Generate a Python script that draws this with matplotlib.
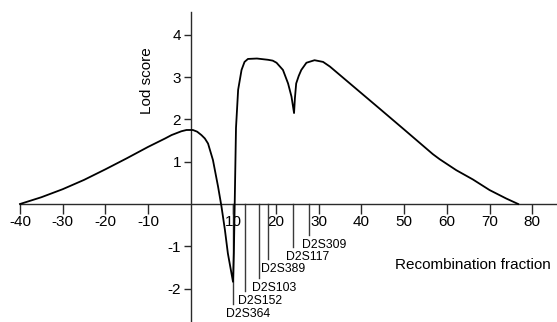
import matplotlib
matplotlib.use("Agg")
import matplotlib.pyplot as plt

plt.rcParams['font.family'] = ['Liberation Sans', 'DejaVu Sans']
plt.rcParams['axes.unicode_minus'] = False

# Lod score curve (recombination fraction vs lod score)
lod_x = [-40, -35, -30, -25, -20, -15, -10, -6, -4.5, -2.2, -1.0, 0.5, 1.5, 2.5, 3.3, 4.05,
         5.2, 6.4, 7.2, 8.0, 8.7, 9.4, 9.9, 10.1, 10.3, 10.6, 11.1, 11.9, 12.6, 13.4,
         15.5, 18.1, 19.2, 20.1, 21.6, 22.8, 23.6, 24.2, 24.4, 24.7, 25.3, 25.9, 27.1,
         29.0, 31.0, 32.6, 38.8, 44.3, 50.0, 56.7, 58.3, 62.2, 66.1, 70.0, 73.9, 76.7]
lod_y = [0.0, 0.16, 0.35, 0.57, 0.82, 1.08, 1.35, 1.55, 1.63, 1.72, 1.75, 1.75, 1.71, 1.63, 1.55, 1.43,
         1.04, 0.41, -0.06, -0.61, -1.17, -1.56, -1.84, -1.17, 0.02, 1.80, 2.70, 3.17, 3.36, 3.43,
         3.44, 3.41, 3.39, 3.34, 3.17, 2.85, 2.54, 2.15, 2.50, 2.85, 3.03, 3.17, 3.34,
         3.40, 3.36, 3.25, 2.72, 2.25, 1.76, 1.18, 1.06, 0.80, 0.58, 0.33, 0.13, 0.0]

# Marker loci: position on the x axis and depth of their leader line
marker_names = ['D2S364', 'D2S152', 'D2S103', 'D2S389', 'D2S117', 'D2S309']
marker_pos = [9.9, 12.8, 16.0, 18.0, 24.0, 27.7]
marker_depth = [-2.36, -2.06, -1.74, -1.31, -1.01, -0.73]

x_ticks = [-40, -30, -20, -10, 10, 20, 30, 40, 50, 60, 70, 80]
y_ticks = [-2, -1, 1, 2, 3, 4]

fig = plt.figure(figsize=(5.57, 3.22), dpi=100)
ax = fig.add_axes([20 / 557, 0.0, 1 - 20 / 557, 310 / 322])
ax.set_xlim(-40, 85.8)
ax.set_ylim(-2.79, 4.54)

axis_col = '#2a2a2a'
for side in ('top', 'right'):
    ax.spines[side].set_visible(False)
ax.spines['left'].set_position(('data', 0))
ax.spines['bottom'].set_position(('data', 0))
for side in ('left', 'bottom'):
    ax.spines[side].set_color(axis_col)
    ax.spines[side].set_linewidth(1.0)

ax.set_xticks(x_ticks)
ax.set_xticklabels([str(t) for t in x_ticks])
ax.set_yticks(y_ticks)
ax.set_yticklabels([str(t) for t in y_ticks])
ax.tick_params(axis='x', direction='out', length=7.2, width=1.0, color=axis_col,
               labelsize=11, pad=1)
ax.tick_params(axis='y', direction='out', length=5, width=1.0, color=axis_col,
               labelsize=11, pad=2)

ax.plot(lod_x, lod_y, color='black', lw=1.3, clip_on=False, zorder=3,
        solid_joinstyle='round')

for name, pos, depth in zip(marker_names, marker_pos, marker_depth):
    ax.plot([pos, pos], [0, depth], color='#3a3a3a', lw=1.0, zorder=2)
    ax.annotate(name, xy=(pos, depth), xytext=(-5.0, -7.2), textcoords='offset points',
                ha='left', va='center', fontsize=8.8, color='black')

ax.set_xlabel('Recombination fraction', fontsize=11, ha='center', va='center')
ax.xaxis.set_label_coords(0.844, 0.184)
ax.set_ylabel('Lod score', fontsize=11, ha='center', va='center')
ax.yaxis.set_label_coords(0.237, 0.778)

fig.savefig('out.png', dpi=100)
